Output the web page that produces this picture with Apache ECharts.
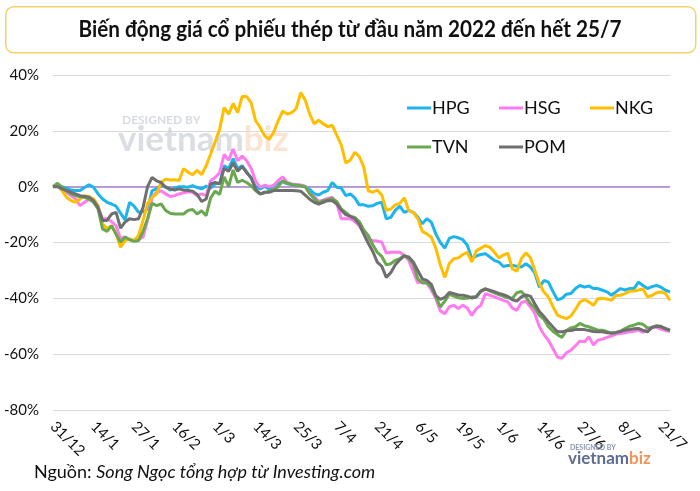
<!DOCTYPE html>
<html>
<head>
<meta charset="utf-8">
<script src="https://cdn.jsdelivr.net/npm/echarts@6/dist/echarts.min.js"></script>
<style>
html,body{margin:0;padding:0;background:#fff;}
#chart{width:700px;height:491px;}
</style>
</head>
<body>
<div id="chart"></div>
<script>
// Trading days from 31/12/2021 to 25/7/2022
const categories = ("31/12 4/1 5/1 6/1 7/1 10/1 11/1 12/1 13/1 14/1 17/1 18/1 19/1 20/1 21/1 24/1 25/1 26/1 27/1 28/1 " +
  "7/2 8/2 9/2 10/2 11/2 14/2 15/2 16/2 17/2 18/2 21/2 22/2 23/2 24/2 25/2 28/2 " +
  "1/3 2/3 3/3 4/3 7/3 8/3 9/3 10/3 11/3 14/3 15/3 16/3 17/3 18/3 21/3 22/3 23/3 24/3 25/3 28/3 29/3 30/3 31/3 " +
  "1/4 4/4 5/4 6/4 7/4 8/4 12/4 13/4 14/4 15/4 18/4 19/4 20/4 21/4 22/4 25/4 26/4 27/4 28/4 29/4 " +
  "4/5 5/5 6/5 9/5 10/5 11/5 12/5 13/5 16/5 17/5 18/5 19/5 20/5 23/5 24/5 25/5 26/5 27/5 30/5 31/5 " +
  "1/6 2/6 3/6 6/6 7/6 8/6 9/6 10/6 13/6 14/6 15/6 16/6 17/6 20/6 21/6 22/6 23/6 24/6 27/6 28/6 29/6 30/6 " +
  "1/7 4/7 5/7 6/7 7/7 8/7 11/7 12/7 13/7 14/7 15/7 18/7 19/7 20/7 21/7 22/7 25/7").split(" ");

const seriesNames = ["HPG", "HSG", "NKG", "TVN", "POM"];
const yTicks = [-80, -60, -40, -20, 0, 20, 40];

const HPG = [0,0.4,0,-0.5,-1.2,-1.4,-1.4,-0.3,0.7,-0.2,-2.6,-4.4,-5.6,-6.2,-7,-9.5,-11.9,-5.6,-7,-9.2,
  -9,-8,-1.4,-0.8,0.4,0,-1.2,-0.5,0,0,-0.2,0.4,-0.3,-0.8,0.2,-0.5,1,1.2,7.5,6.5,
  10,6.5,7.5,5.3,3,0,-0.8,0.2,-0.8,0.5,1.2,1.8,1,0.8,0.6,0.4,0,-1,-2.5,-3,
  -2,-1.4,1.5,-0.2,-0.5,-3.2,-2.6,-4,-6.5,-6.5,-7,-6.8,-6,-5.6,-11.5,-11,-8.5,-7,-9.2,-8.5,
  -9.2,-11,-13.3,-11.5,-12.7,-16.9,-20,-22,-18.5,-17.9,-18.3,-19,-21,-25.8,-24.8,-24.3,-24,-25.2,-26.4,-27,
  -28.6,-28.2,-28.2,-28.5,-28.8,-27.6,-28.8,-31,-36,-33.6,-34.2,-37.5,-40.5,-40,-38.5,-38.3,-36.5,-35.4,-36,-35.6,
  -36.5,-36.5,-37.1,-37.7,-38.9,-37.7,-36.5,-37,-36.5,-36.5,-34.2,-35.4,-36.5,-35.8,-35.4,-36,-37.1,-37.7];

const HSG = [0,0.7,-0.3,-2,-3.2,-4.4,-6.8,-5.6,-4.5,-4.4,-7.4,-11.5,-11.5,-12.5,-14,-18.7,-18,-19,-19.3,-19,
  -18,-12,-3.8,-2,-1.5,-2.6,-3.5,-3.2,-2.6,-2.2,-1.8,-2,-3.2,-2.6,-3.2,2.1,3.3,5,11.5,9.5,
  13.5,9.3,11,9.3,6.5,2,-0.2,0.5,0,0.5,2.2,3.5,1.5,1,0.8,0.6,0.2,-2.5,-3.5,-5.3,
  -4.8,-4.2,-3.8,-6,-11.5,-11.5,-11.5,-12.5,-14,-16.5,-19,-19.3,-19.5,-19.8,-23.8,-23.5,-23.5,-23.5,-24.6,-26.4,
  -30.5,-34.5,-33.6,-34.5,-37,-40,-44.5,-45.5,-43,-42.5,-43.7,-42.5,-43.5,-46.1,-43.7,-42.5,-38.3,-38.9,-39.5,-40.1,
  -40.7,-41.3,-43.5,-44.3,-41.5,-41,-43.1,-45.5,-50.2,-53,-55,-58,-61,-61.5,-59.5,-58.6,-57,-55.3,-55.6,-53.8,
  -56.7,-55,-54.6,-54,-53.5,-52.8,-52.6,-52.3,-52,-51.8,-51.4,-52.2,-50.8,-50.3,-50.4,-51,-51.6,-51.8];

const NKG = [0,0.4,-1.4,-3.8,-5,-5.6,-4.4,-3.2,-3.5,-4.4,-6.8,-13.3,-15.1,-14,-17,-21.7,-19.3,-18.7,-19.3,-17.5,
  -12,-6,-3.8,-2.6,1.5,2.7,2.4,2.5,2.2,6.5,5.1,4.3,5.9,4.3,7.5,11.7,16,20.6,28.3,26,
  29.8,26.5,32.3,32.3,30,23.6,21.2,18.2,17,19.5,23.6,27.1,26,26.5,28,33.7,31,26,22.5,23.8,
  22.5,21.5,22,18.5,15,8.5,9.5,12.3,10.8,7,-1.5,-2,-1.2,-3,-8.5,-8,-6.5,-6,-4,-8.6,
  -9.2,-11.5,-16,-16.9,-18.1,-22,-28,-32.5,-27.5,-25.8,-25.5,-24.3,-23.5,-27,-22.9,-22,-21.1,-21.7,-23.5,-25.5,
  -24.5,-23.8,-29.5,-30.3,-25.8,-23.7,-25.5,-30,-34.8,-37.7,-39.5,-43,-46,-46.7,-47.3,-46.3,-44,-41.3,-40.5,-41.3,
  -42.5,-40.1,-40.1,-40.2,-40.7,-39,-38.9,-38.3,-37.5,-37.4,-37,-36.6,-39.5,-39,-38,-37.7,-38.3,-40.7];

const TVN = [0,1.2,-0.2,-1.4,-2.6,-3.2,-3.6,-3.8,-4.5,-5.6,-8,-15.1,-16,-14,-17,-19.9,-18,-19,-19.6,-19.3,
  -16,-11.5,-6,-6.8,-6.2,-8.5,-9.5,-9.8,-9.8,-9.8,-8.5,-8.2,-9.8,-8.6,-10.4,-4,-1.6,-2.8,3.5,0,
  6,1.5,2.3,1.5,0.3,-1.5,-2.6,-2.2,-1.6,-1,0,2.1,1.2,0.8,0.5,0.3,0,-2.5,-4.2,-5.9,
  -5,-4.7,-4.2,-5.3,-8,-9.2,-10.6,-11,-12.5,-15.5,-17.5,-20.8,-23.5,-25,-28,-27.6,-26.4,-25.8,-24.6,-25.8,
  -27.6,-33,-34.5,-34.5,-36,-39.5,-43.1,-41,-38.5,-39.2,-39.8,-40.1,-40,-39.5,-39.3,-37.3,-36.5,-37.3,-38,-38.7,
  -39.3,-39.8,-40,-38,-37.5,-39.5,-41.9,-43.5,-46.1,-47.5,-50.2,-51.8,-53,-54,-51.5,-50.6,-50.2,-49,-49.8,-50.2,
  -50.8,-51.4,-51.4,-51.9,-52.5,-52.3,-51.8,-50.8,-50,-49.6,-49,-49.3,-50.6,-50.5,-49.8,-50,-51,-51.6];

const POM = [0,0,-0.8,-1.4,-2,-2.6,-3.2,-3.5,-3.8,-5,-7.4,-12.1,-12.1,-9.8,-9.2,-14.8,-12.7,-11.5,-11.8,-11.5,
  -7.4,0,3.3,2.1,1.5,-0.2,-0.8,-1.2,-0.8,-1.2,-1.4,-1.6,-2.8,-5.3,-4.4,1,1.5,1,6.5,5.5,
  8.5,5.5,7.2,5,3.3,-1,-2.6,-2,-2,-1.4,-1.4,-1.4,-1.4,-1.4,-1.5,-1.6,-3,-4.5,-5.6,-6.2,
  -5.6,-5,-5,-6.2,-8.4,-10,-10.6,-11.5,-13.5,-17,-20.3,-23.2,-27,-28.5,-32.5,-30.8,-28,-26.2,-24.8,-25.2,
  -27,-30,-33,-33.6,-35,-39,-40.4,-39.7,-37.9,-38.3,-38.8,-38.9,-39.2,-39.9,-39.5,-37.5,-36.7,-37.1,-37.6,-38.2,
  -38.7,-39.3,-40.5,-41,-39.5,-38.8,-39.2,-42,-44.7,-46.5,-48.5,-50.3,-52,-52,-51.6,-51.5,-51.2,-51.2,-51.2,-51.5,
  -51.9,-52,-52,-52.3,-52.4,-52.2,-51.9,-51.4,-51.2,-50.9,-50.8,-51.5,-52,-50.4,-50,-50.2,-50.8,-51.4];

const seriesData = [HPG, HSG, NKG, TVN, POM];
const colors = ["#1CB4EC", "#FF7BEF", "#FFBE00", "#6AA84F", "#6F6F6F"];
const legendPos = [[402, 94], [494, 94], [585, 94], [402, 133], [494, 133]];

const FONT = "Lato, 'Noto Sans', sans-serif";
const chart = echarts.init(document.getElementById('chart'), null, {renderer: 'canvas'});

const series = seriesNames.map((name, k) => ({
  name: name,
  type: 'line',
  data: seriesData[k],
  showSymbol: false,
  symbol: 'none',
  lineStyle: {width: 3, color: colors[k]},
  itemStyle: {color: colors[k]},
  z: 3 + k,
  markLine: k === 0 ? {
    silent: true, symbol: 'none', label: {show: false},
    lineStyle: {color: '#A67FD0', width: 1.5, type: 'solid'},
    data: [{yAxis: 0}], z: 2
  } : undefined
}));

const legends = seriesNames.map((name, k) => ({
  data: [name],
  left: legendPos[k][0],
  top: legendPos[k][1],
  icon: 'rect',
  itemWidth: 24,
  itemHeight: 3,
  itemGap: 4,
  selectedMode: false,
  textStyle: {fontFamily: FONT, fontSize: 18, color: '#111', padding: [0, 0, 0, -4]}
}));

chart.setOption({
  animation: false,
  backgroundColor: '#ffffff',
  grid: {left: 53, right: 30, top: 75, bottom: 81, containLabel: false},
  legend: legends,
  xAxis: {
    type: 'category',
    data: categories,
    boundaryGap: false,
    axisLine: {show: false},
    axisTick: {show: false},
    splitLine: {show: false},
    axisLabel: {
      interval: 8, rotate: -45, margin: 14,
      fontFamily: FONT, fontSize: 15, color: '#111'
    }
  },
  yAxis: {
    type: 'value',
    min: yTicks[0], max: yTicks[yTicks.length - 1], interval: 20,
    axisLine: {show: false},
    axisTick: {show: false},
    splitLine: {lineStyle: {color: '#D9D9D9', width: 1}},
    axisLabel: {
      formatter: '{value}%', margin: 14,
      fontFamily: FONT, fontSize: 15, color: '#111'
    }
  },
  series: series,
  graphic: [
    {
      type: 'rect', left: 5, top: 6, z: 0,
      shape: {width: 690, height: 46, r: 8},
      style: {fill: '#fff', stroke: '#F5D26B', lineWidth: 1.5}
    },
    {
      type: 'text', x: 350, y: 30, z: 10,
      scaleX: 0.94, originX: 0,
      style: {
        text: 'Biến động giá cổ phiếu thép từ đầu năm 2022 đến hết 25/7',
        font: "bold 22px Lato, 'Noto Sans', sans-serif",
        fill: '#111', align: 'center', verticalAlign: 'middle'
      }
    },
    {
      type: 'text', left: 34, top: 463, z: 10,
      style: {
        text: '{a|Nguồn: }{b|Song Ngọc tổng hợp từ Investing.com}',
        rich: {
          a: {fontFamily: FONT, fontSize: 18, fill: '#111', fontStyle: 'normal'},
          b: {fontFamily: FONT, fontSize: 18, fill: '#111', fontStyle: 'italic'}
        }
      }
    },
    // watermark in the plot
    {
      type: 'text', left: 122, top: 114, z: 1,
      style: {text: 'DESIGNED BY', font: "bold 12px Lato, sans-serif", fill: '#CDD2D9', opacity: 0.8}
    },
    {
      type: 'text', left: 118, top: 122, z: 1,
      style: {
        text: '{v|vietnam}{b|biz}',
        rich: {
          v: {font: "bold 35px Lato, sans-serif", fill: '#CBD0D7'},
          b: {font: "bold 35px Lato, sans-serif", fill: '#F8D8C2'}
        },
        opacity: 0.7
      }
    },
    // logo bottom right
    {
      type: 'text', left: 570, top: 444, z: 10,
      style: {text: 'DESIGNED BY', font: "bold 7px Lato, sans-serif", fill: '#8A96AE'}
    },
    {
      type: 'text', left: 568, top: 450, z: 10,
      style: {
        text: '{v|vietnam}{b|biz}',
        rich: {
          v: {font: "bold 17px Lato, sans-serif", fill: '#5D6D8E'},
          b: {font: "bold 17px Lato, sans-serif", fill: '#F2945A'}
        }
      }
    }
  ]
});
</script>
</body>
</html>
